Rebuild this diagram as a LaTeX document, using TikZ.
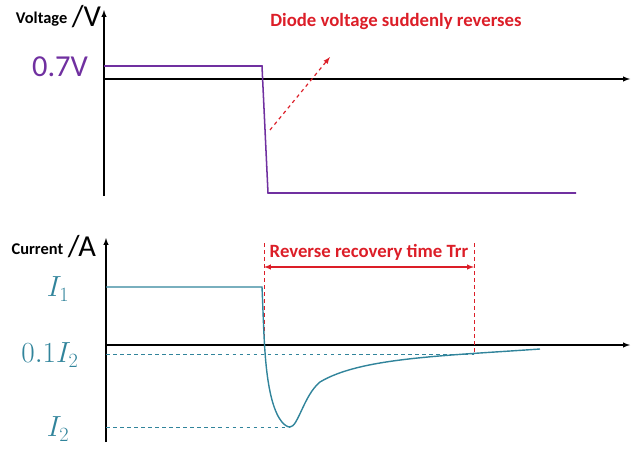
\documentclass[tikz,border=0pt]{standalone}
\usepackage{fontspec}
\setmainfont{Carlito}
\usepackage{amsmath}
\usetikzlibrary{positioning}
\definecolor{volt}{RGB}{112,48,160}
\definecolor{curr}{RGB}{49,132,155}
\definecolor{redmk}{RGB}{220,30,40}
\newcommand{\redfont}{\fontsize{16}{19}\selectfont\bfseries}
\newcommand{\bigfont}{\fontsize{26}{30}\selectfont}
\newcommand{\smallfont}{\fontsize{14}{16}\selectfont\bfseries}

\begin{document}
\begin{tikzpicture}[x=0.03cm, y=-0.03cm, line width=1pt, >=latex]
    \useasboundingbox (0,0) rectangle (637,449);
    % Eixos da tensao
    \draw[->] (104,196) -- (104,10);
    \draw[->] (104,79) -- (630,79);
    \node[anchor=east, inner sep=1pt] (vl) at (69,19) {\smallfont Voltage};
    \node[anchor=west, inner sep=1pt] at (70,17) {\bigfont /V};
    \node[volt] (v0) at (60,67) {\bigfont 0.7V};

    % Curva da tensao
    \draw[volt, line width=1.3pt] (104,66) -- (262,66) -- (268,193) -- (576,193);

    % Seta e texto
    \coordinate (a1) at (270,130);
    \coordinate (a2) at (330,57);
    \draw[redmk, dashed, ->] (a1) -- (a2);
    \node[redmk] (vt) at (396,22) {\redfont Diode voltage suddenly reverses};

    % Eixos da corrente
    \draw[->] (106,442) -- (106,238);
    \draw[->] (106,345) -- (630,345);
    \node[anchor=east, inner sep=1pt] (cl) at (65,249) {\smallfont Current};
    \node[anchor=west, inner sep=1pt] at (66,247) {\bigfont /A};
    \node[curr] (i1) at (58,289) {\bigfont $I_1$};
    \node[curr] (i01) at (50,355) {\bigfont $0.1I_2$};
    \node[curr] (i2) at (58,429) {\bigfont $I_2$};

    % Linhas auxiliares
    \draw[curr, dashed, thin] (106,354) -- (474,354);
    \draw[curr, dashed, thin] (106,427) -- (290,427);
    \draw[redmk, dashed, thin] (264,243) -- (264,345);
    \draw[redmk, dashed, thin] (474,243) -- (474,354);
    \draw[redmk, <->] (264,267) -- (474,267);
    \node[redmk] (rt) at (369,252) {\redfont Reverse recovery time Trr};

    % Curva da corrente
    \draw[curr, line width=1.2pt] (106,287) -- (262,287)
        .. controls (264,330) and (264,370) .. (272,400)
        .. controls (278,422) and (286,427) .. (290,427)
        .. controls (298,427) and (304,395) .. (320,382)
        .. controls (360,358) and (440,356) .. (540,349);
\end{tikzpicture}
\end{document}
